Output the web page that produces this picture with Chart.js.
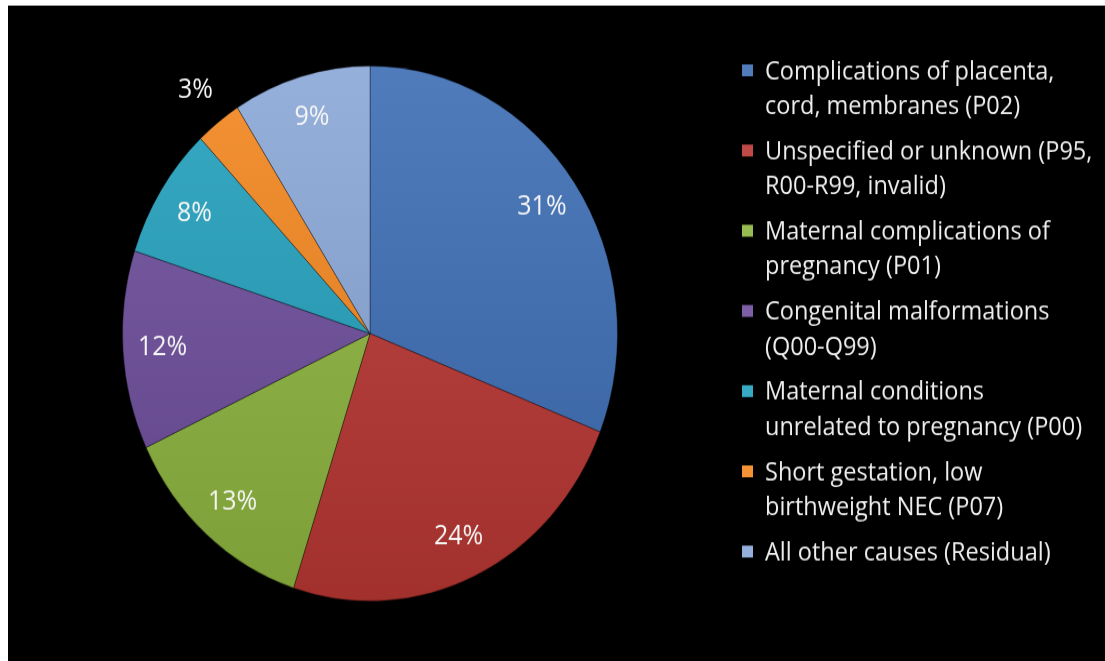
<!DOCTYPE html>
<html>
<head>
<meta charset="utf-8">
<script src="https://cdn.jsdelivr.net/npm/chart.js@4"></script>
<style>
  html, body { margin: 0; padding: 0; background: #fff; }
  #marco {
    position: absolute; left: 8px; top: 5px; width: 1097px; height: 656px;
    background: #000; border-top: 1px solid #9a9a9a; overflow: hidden;
  }
  /* el gráfico se estira un poco en vertical */
  #caja {
    position: absolute; left: 0; top: 0; width: 1097px; height: 606px;
    transform-origin: 0 0; transform: scaleY(1.0809);
  }
</style>
</head>
<body>
<div id="marco">
  <div id="caja"><canvas id="graficaCausas"></canvas></div>
</div>
<script>
// Causas y porcentajes
const causas = [
  ["Complications of placenta,", "cord, membranes (P02)"],
  ["Unspecified or unknown (P95,", "R00-R99, invalid)"],
  ["Maternal complications of", "pregnancy (P01)"],
  ["Congenital malformations", "(Q00-Q99)"],
  ["Maternal conditions", "unrelated to pregnancy (P00)"],
  ["Short gestation, low", "birthweight NEC (P07)"],
  ["All other causes (Residual)"]
];
const porcentajes = [31, 24, 13, 12, 8, 3, 9];
const colores = ["#3d6db5", "#b83632", "#8db53f", "#6d4d9b", "#23a0bd", "#f3861f", "#8aa7d8"];

const FUENTE = "'Open Sans', Lato, sans-serif";

// aclara (t > 0) u oscurece (t < 0) un color hex
function tono(hex, t) {
  const n = parseInt(hex.slice(1), 16);
  const c = [n >> 16, (n >> 8) & 255, n & 255].map((v) =>
    Math.round(t > 0 ? v + (255 - v) * t : v * (1 + t))
  );
  return "rgb(" + c.join(",") + ")";
}

// degradado vertical suave en cada sector
function relleno(context) {
  const chart = context.chart;
  const area = chart.chartArea;
  const base = colores[context.dataIndex];
  if (!area) return base;
  const g = chart.ctx.createLinearGradient(0, area.top, 0, area.bottom);
  g.addColorStop(0, tono(base, 0.1));
  g.addColorStop(1, tono(base, -0.12));
  return g;
}

// Porcentaje dentro de cada sector (fuera si es muy pequeño)
const etiquetas = {
  id: "etiquetasPorcentaje",
  afterDatasetsDraw(chart) {
    const ctx = chart.ctx;
    const meta = chart.getDatasetMeta(0);
    ctx.save();
    ctx.font = "25px " + FUENTE;
    ctx.fillStyle = "#f6f6f6";
    ctx.textAlign = "center";
    ctx.textBaseline = "middle";
    meta.data.forEach((arco, i) => {
      const p = arco.getProps(["x", "y", "startAngle", "endAngle", "outerRadius"], true);
      const medio = (p.startAngle + p.endAngle) / 2;
      const f = porcentajes[i] < 5 ? 1.15 : 0.84;
      ctx.fillText(porcentajes[i] + "%",
        p.x + Math.cos(medio) * p.outerRadius * f,
        p.y + Math.sin(medio) * p.outerRadius * f);
    });
    ctx.restore();
  }
};

// Leyenda a la derecha, con etiquetas de dos líneas
const leyenda = {
  id: "leyendaDerecha",
  afterDraw(chart) {
    const ctx = chart.ctx;
    ctx.save();
    ctx.font = "23.5px " + FUENTE;
    ctx.textBaseline = "middle";
    chart.data.labels.forEach((lineas, i) => {
      const y0 = 61 + i * 74.2;
      ctx.fillStyle = tono(colores[i], 0.1);
      ctx.fillRect(734, y0 - 7, 11, 11);
      ctx.fillStyle = "#eeeeee";
      lineas.forEach((t, j) => ctx.fillText(t, 757, y0 + j * 32.4));
    });
    ctx.restore();
  }
};

new Chart(document.getElementById("graficaCausas"), {
  type: "pie",
  data: {
    labels: causas,
    datasets: [
      {
        data: porcentajes,
        backgroundColor: relleno,
        borderColor: "rgba(0,0,0,0.35)",
        borderWidth: 1,
      },
    ],
  },
  options: {
    responsive: true,
    maintainAspectRatio: false,
    animation: false,
    layout: { padding: { left: 114, top: 55, right: 487, bottom: 55 } },
    plugins: {
      legend: { display: false },
      tooltip: { enabled: false },
    },
  },
  plugins: [etiquetas, leyenda],
});
</script>
</body>
</html>
